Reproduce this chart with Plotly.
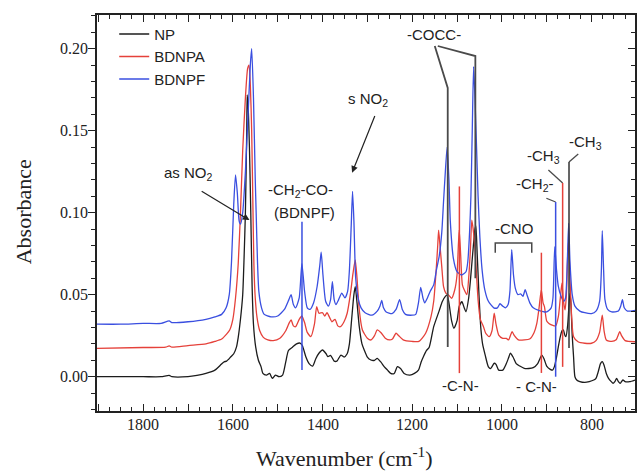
import plotly.graph_objects as go

# ---------------- data (wavenumber cm-1, absorbance) ----------------
series_names = ["NP", "BDNPA", "BDNPF"]

np_spectrum = [
    (1903, 0.0), (1800, 0.0), (1760, 0.0), (1742, 0.0008), (1736, 0.0), (1700, 0.0),
    (1680, 0.0008), (1660, 0.002), (1640, 0.004), (1628, 0.007), (1620, 0.009),
    (1614, 0.0095), (1610, 0.0105), (1605, 0.012), (1598, 0.014), (1592, 0.018),
    (1588, 0.024), (1583, 0.035), (1578, 0.050), (1575, 0.072), (1572, 0.100),
    (1569, 0.150), (1568, 0.1718), (1566, 0.165), (1563, 0.140), (1560, 0.100),
    (1557, 0.055), (1554, 0.032), (1549, 0.018), (1543, 0.010), (1537, 0.006),
    (1533, 0.002), (1525, 0.001), (1518, 0.002), (1512, -0.001), (1505, 0.001),
    (1497, 0.000), (1489, 0.001), (1482, 0.009), (1476, 0.016), (1467, 0.018),
    (1458, 0.020), (1450, 0.0205), (1445, 0.019), (1437, 0.012), (1430, 0.008),
    (1422, 0.0065), (1415, 0.011), (1408, 0.0143), (1400, 0.0163), (1392, 0.014),
    (1388, 0.0122), (1382, 0.013), (1374, 0.0095), (1368, 0.0095), (1359, 0.0132),
    (1352, 0.012), (1345, 0.014), (1340, 0.020), (1335, 0.035), (1330, 0.050),
    (1327, 0.0549), (1323, 0.045), (1318, 0.0305), (1312, 0.020), (1307, 0.0163),
    (1300, 0.012), (1292, 0.0102), (1284, 0.010), (1278, 0.0112), (1270, 0.009),
    (1262, 0.006), (1255, 0.004), (1248, 0.002), (1240, 0.002), (1233, 0.0061),
    (1226, 0.005), (1218, 0.002), (1205, 0.001), (1195, 0.002), (1186, 0.004),
    (1180, 0.009), (1175, 0.0122), (1168, 0.016), (1162, 0.018), (1152, 0.0305),
    (1140, 0.040), (1133, 0.0457), (1126, 0.049), (1122, 0.0498), (1118, 0.045),
    (1112, 0.034), (1107, 0.0295), (1100, 0.034), (1095, 0.043), (1089, 0.0457),
    (1084, 0.042), (1080, 0.0396), (1074, 0.048), (1070, 0.059), (1065, 0.075),
    (1060, 0.090), (1058, 0.092), (1055, 0.075), (1051, 0.050), (1047, 0.030),
    (1043, 0.020), (1037, 0.013), (1030, 0.006), (1025, 0.005), (1017, 0.0082),
    (1013, 0.0075), (1007, 0.004), (998, 0.004), (990, 0.008), (985, 0.0115),
    (981, 0.0143), (975, 0.012), (968, 0.008), (960, 0.0065), (950, 0.0051),
    (940, 0.005), (930, 0.0055), (920, 0.008), (915, 0.011), (911, 0.0132),
    (906, 0.011), (900, 0.0065), (892, 0.0045), (887, 0.004), (883, 0.006),
    (878, 0.012), (874, 0.0183), (870, 0.024), (866, 0.028), (863, 0.0285),
    (859, 0.025), (857, 0.0244), (853, 0.032), (850, 0.045), (848, 0.0508),
    (846, 0.045), (843, 0.025), (840, 0.012), (837, 0.000), (833, -0.002),
    (826, -0.003), (815, -0.0035), (805, -0.003), (795, -0.002), (790, -0.001),
    (785, 0.003), (780, 0.008), (776, 0.0092), (772, 0.007), (767, 0.002),
    (762, -0.001), (756, -0.003), (752, -0.004), (748, -0.003), (744, -0.001),
    (740, -0.003), (736, -0.004), (730, -0.002), (725, -0.003), (715, -0.003),
    (703, -0.002),
]

bdnpa_spectrum = [
    (1903, 0.0173), (1800, 0.0178), (1750, 0.018), (1742, 0.0188), (1736, 0.018),
    (1700, 0.019), (1660, 0.020), (1640, 0.0215), (1625, 0.023), (1614, 0.026),
    (1607, 0.0285), (1600, 0.035), (1594, 0.048), (1588, 0.069), (1583, 0.100),
    (1578, 0.138), (1572, 0.170), (1567, 0.188), (1564, 0.190), (1561, 0.178),
    (1558, 0.150), (1555, 0.100), (1553, 0.068), (1550, 0.048), (1546, 0.036),
    (1540, 0.028), (1532, 0.024), (1522, 0.0225), (1510, 0.022), (1495, 0.0235),
    (1482, 0.028), (1474, 0.033), (1470, 0.0346), (1465, 0.031), (1460, 0.0305),
    (1452, 0.035), (1446, 0.037), (1440, 0.033), (1434, 0.027), (1426, 0.0244),
    (1418, 0.032), (1413, 0.0427), (1408, 0.0387), (1400, 0.039), (1395, 0.037),
    (1390, 0.039), (1384, 0.036), (1379, 0.0335), (1372, 0.035), (1366, 0.031),
    (1360, 0.0305), (1352, 0.0335), (1345, 0.0387), (1338, 0.050), (1332, 0.063),
    (1327, 0.0712), (1323, 0.060), (1318, 0.0407), (1311, 0.0285), (1300, 0.0235),
    (1292, 0.0224), (1284, 0.025), (1278, 0.0285), (1270, 0.027), (1260, 0.0235),
    (1250, 0.0224), (1244, 0.023), (1236, 0.0265), (1230, 0.025), (1220, 0.0225),
    (1200, 0.0215), (1185, 0.0215), (1170, 0.0265), (1158, 0.0366), (1152, 0.046),
    (1147, 0.063), (1143, 0.080), (1141, 0.0894), (1138, 0.080), (1134, 0.0671),
    (1130, 0.0549), (1125, 0.051), (1119, 0.0498), (1112, 0.0478), (1105, 0.053),
    (1100, 0.062), (1097, 0.080), (1095, 0.0894), (1092, 0.075), (1088, 0.056),
    (1084, 0.053), (1078, 0.050), (1074, 0.060), (1070, 0.078), (1067, 0.0955),
    (1064, 0.090), (1060, 0.078), (1056, 0.060), (1053, 0.0468), (1048, 0.035),
    (1041, 0.0305), (1036, 0.0265), (1028, 0.0244), (1022, 0.028), (1017, 0.0387),
    (1013, 0.032), (1007, 0.0254), (998, 0.0234), (990, 0.0234), (985, 0.0224),
    (981, 0.025), (977, 0.0274), (972, 0.025), (963, 0.0224), (950, 0.0224),
    (938, 0.023), (928, 0.027), (922, 0.0325), (917, 0.042), (912, 0.0529),
    (908, 0.045), (905, 0.0427), (900, 0.034), (895, 0.0325), (888, 0.0315),
    (880, 0.031), (874, 0.0366), (870, 0.0468), (866, 0.057), (863, 0.0468),
    (859, 0.0407), (856, 0.050), (853, 0.075), (851, 0.083), (848, 0.060),
    (844, 0.035), (840, 0.0244), (830, 0.0213), (815, 0.0204), (800, 0.0204),
    (790, 0.022), (782, 0.027), (776, 0.0376), (772, 0.028), (767, 0.0224),
    (755, 0.0215), (745, 0.0225), (737, 0.0274), (733, 0.025), (725, 0.022),
    (703, 0.0213),
]

bdnpf_spectrum = [
    (1903, 0.032), (1850, 0.032), (1800, 0.0325), (1760, 0.0325), (1742, 0.034),
    (1736, 0.033), (1700, 0.0335), (1660, 0.035), (1640, 0.0365), (1625, 0.038),
    (1615, 0.042), (1608, 0.050), (1603, 0.070), (1598, 0.105), (1594, 0.123),
    (1590, 0.112), (1586, 0.095), (1583, 0.093), (1578, 0.100), (1572, 0.125),
    (1566, 0.160), (1561, 0.190), (1558, 0.200), (1554, 0.170), (1550, 0.120),
    (1548, 0.100), (1545, 0.070), (1542, 0.052), (1536, 0.042), (1530, 0.038),
    (1515, 0.0365), (1500, 0.037), (1485, 0.041), (1475, 0.047), (1470, 0.050),
    (1465, 0.044), (1460, 0.042), (1452, 0.048), (1446, 0.069), (1440, 0.052),
    (1434, 0.042), (1428, 0.041), (1420, 0.045), (1412, 0.055), (1406, 0.068),
    (1403, 0.076), (1399, 0.062), (1393, 0.046), (1387, 0.043), (1382, 0.047),
    (1378, 0.058), (1374, 0.047), (1370, 0.044), (1364, 0.047), (1357, 0.051),
    (1350, 0.048), (1344, 0.052), (1340, 0.065), (1336, 0.092), (1333, 0.113),
    (1330, 0.095), (1326, 0.060), (1320, 0.047), (1314, 0.042), (1305, 0.039),
    (1290, 0.0375), (1278, 0.040), (1272, 0.043), (1268, 0.0465), (1264, 0.042),
    (1258, 0.0395), (1245, 0.0385), (1236, 0.041), (1228, 0.047), (1222, 0.041),
    (1215, 0.038), (1200, 0.0375), (1192, 0.038), (1186, 0.045), (1181, 0.0545),
    (1176, 0.048), (1172, 0.045), (1166, 0.048), (1160, 0.052), (1152, 0.056),
    (1146, 0.065), (1140, 0.073), (1134, 0.088), (1130, 0.107), (1126, 0.125),
    (1122, 0.140), (1118, 0.120), (1115, 0.095), (1108, 0.072), (1100, 0.064),
    (1090, 0.062), (1080, 0.064), (1076, 0.070), (1072, 0.088), (1069, 0.110),
    (1066, 0.150), (1063, 0.189), (1060, 0.170), (1057, 0.145), (1053, 0.110),
    (1049, 0.085), (1044, 0.065), (1038, 0.053), (1030, 0.046), (1018, 0.042),
    (1010, 0.042), (1004, 0.0445), (998, 0.043), (992, 0.042), (986, 0.044),
    (982, 0.052), (978, 0.0775), (974, 0.062), (970, 0.054), (964, 0.050),
    (958, 0.0505), (953, 0.049), (948, 0.053), (944, 0.050), (937, 0.0447),
    (930, 0.042), (918, 0.0405), (900, 0.0395), (890, 0.042), (886, 0.048),
    (882, 0.0793), (878, 0.065), (874, 0.055), (868, 0.049), (862, 0.046),
    (858, 0.048), (854, 0.070), (851, 0.0935), (848, 0.070), (843, 0.050),
    (837, 0.043), (826, 0.040), (815, 0.039), (800, 0.0385), (790, 0.040),
    (782, 0.046), (778, 0.065), (776, 0.089), (773, 0.065), (770, 0.047),
    (764, 0.041), (755, 0.0395), (740, 0.040), (735, 0.043), (731, 0.047),
    (727, 0.042), (720, 0.040), (703, 0.0405),
]

x_label_values = [800, 1000, 1200, 1400, 1600, 1800]
x_label_texts = ["800", "1000", "1200", "1400", "1600", "1800"]
x_tick_step = 100
y_tick_values = [0.0, 0.05, 0.10, 0.15, 0.20]
y_tick_labels = ["0.00", "0.05", "0.10", "0.15", "0.20"]

# band labels: (text, wavenumber, absorbance)
band_labels = [
    ("as NO<sub>2</sub>", 1698, 0.1236),
    ("s NO<sub>2</sub>", 1298, 0.1687),
    ("-CH<sub>2</sub>-CO-", 1448, 0.1138),
    ("(BDNPF)", 1441, 0.1004),
    ("-COCC-", 1152, 0.2084),
    ("-CNO", 972, 0.0906),
    ("-C-N-", 1092, -0.0051),
    ("- C-N-", 922, -0.0061),
    ("-CH<sub>2</sub>-", 927, 0.1169),
    ("-CH<sub>3</sub>", 906, 0.1340),
    ("-CH<sub>3</sub>", 813, 0.1425),
]

# ---------------- styling ----------------
colors = ["#1c1c1c", "#e5413a", "#3a4fe0"]
serif = "Liberation Serif"
sans = "Liberation Sans"
ink = "#222222"
xr = [1903, 703]
yr = [-0.0209, 0.2205]

fig = go.Figure()
for name, data, col in zip(series_names, [np_spectrum, bdnpa_spectrum, bdnpf_spectrum], colors):
    fig.add_trace(go.Scatter(
        x=[p[0] for p in data], y=[p[1] for p in data], mode="lines", name=name,
        line=dict(color=col, width=1.3, shape="spline", smoothing=0.6),
    ))
# invisible traces to activate the extra axes (top ticks / right ticks)
fig.add_trace(go.Scatter(x=[None], y=[None], yaxis="y2", showlegend=False, hoverinfo="skip"))
fig.add_trace(go.Scatter(x=[None], y=[None], xaxis="x2", showlegend=False, hoverinfo="skip"))

shapes = []
def path(points, color, width):
    d = "M " + " L ".join(f"{x},{y}" for x, y in points)
    shapes.append(dict(type="path", path=d, xref="x", yref="y",
                       line=dict(color=color, width=width)))

gray = "#4a4a4a"
path([(1149.6, 0.2016), (1120.7, 0.176), (1120.7, 0.0181)], gray, 1.8)
path([(1142.9, 0.2016), (1059.1, 0.1955), (1059.1, 0.060)], gray, 1.8)
path([(1445.8, 0.0945), (1445.8, 0.0041)], colors[2], 1.5)
path([(1094.7, 0.116), (1094.7, 0.0022)], colors[1], 1.5)
path([(911.8, 0.0756), (911.8, 0.0023)], colors[1], 1.5)
path([(900.7, 0.1088), (880.0, 0.1065)], gray, 1.3)
path([(880.0, 0.1065), (880.0, 0.0)], colors[2], 1.5)
path([(896.2, 0.126), (864.4, 0.1181)], gray, 1.3)
path([(864.4, 0.1181), (864.4, 0.006)], colors[1], 1.5)
path([(829.6, 0.1358), (850.2, 0.1309)], gray, 1.3)
path([(850.2, 0.1309), (850.2, 0.0175)], "#333333", 1.5)
path([(1014.7, 0.0756), (1014.7, 0.0815), (933.3, 0.0815), (933.3, 0.0756)], gray, 1.5)

annotations = []
for text, x, y in band_labels:
    annotations.append(dict(text=text, x=x, y=y, xref="x", yref="y", showarrow=False,
                            xanchor="center", yanchor="middle",
                            font=dict(family=sans, size=15, color=ink)))
# arrows
for (hx, hy), (tx, ty) in [((1562.9, 0.0955), (1674, 0.1138)),
                           ((1334, 0.1244), (1280.7, 0.1608))]:
    annotations.append(dict(text=" ", x=hx, y=hy, ax=tx, ay=ty, xref="x", yref="y",
                            axref="x", ayref="y", showarrow=True, arrowhead=2,
                            arrowsize=1.1, arrowwidth=1.2, arrowcolor=ink,
                            font=dict(size=2)))
# axis titles
annotations.append(dict(text="Absorbance", xref="paper", yref="paper", x=(23 - 97) / 540,
                        y=(411 - 212) / 396, textangle=-90, showarrow=False,
                        xanchor="center", yanchor="middle",
                        font=dict(family=serif, size=22, color=ink)))
annotations.append(dict(text="Wavenumber (cm<sup>-1</sup>)", xref="paper", yref="paper",
                        x=(345 - 97) / 540, y=(411 - 457) / 396, showarrow=False,
                        xanchor="center", yanchor="middle",
                        font=dict(family=serif, size=22, color=ink)))

tick_common = dict(tickwidth=1, tickcolor=ink, showgrid=False, zeroline=False)
fig.update_layout(
    width=637, height=472,
    margin=dict(l=97, r=0, t=15, b=61),
    paper_bgcolor="white", plot_bgcolor="white",
    showlegend=True,
    legend=dict(x=0.032, y=0.993, xanchor="left", yanchor="top",
                bgcolor="rgba(0,0,0,0)", borderwidth=0,
                font=dict(family=sans, size=15, color=ink),
                itemwidth=30, tracegroupgap=0),
    # bottom axis: labelled every 200, major ticks every 100, minor every 25
    xaxis=dict(range=xr, tickmode="linear", tick0=0, dtick=x_tick_step,
               ticks="inside", ticklen=7, showticklabels=False,
               showline=True, linecolor=ink, linewidth=1.5, mirror=True,
               minor=dict(tick0=0, dtick=25, ticks="inside", ticklen=4,
                          tickcolor=ink, showgrid=False),
               **tick_common),
    # top axis: mirrored inside ticks, carries no labels
    xaxis2=dict(range=xr, overlaying="x", side="top", anchor="y",
                tickmode="linear", tick0=0, dtick=x_tick_step,
                ticks="inside", ticklen=7, showticklabels=False, showline=False,
                minor=dict(tick0=0, dtick=25, ticks="inside", ticklen=4,
                           tickcolor=ink, showgrid=False),
                **tick_common),
    yaxis=dict(range=yr, tickvals=y_tick_values, ticktext=y_tick_labels,
               ticks="outside", ticklen=7, ticklabelstandoff=-3,
               showline=True, linecolor=ink, linewidth=1.5, mirror=True,
               minor=dict(tick0=0, dtick=0.01, ticks="outside", ticklen=4,
                          tickcolor=ink, showgrid=False),
               tickfont=dict(family=serif, size=16, color=ink),
               **tick_common),
    yaxis2=dict(range=yr, overlaying="y", side="right", tickvals=y_tick_values,
                ticks="inside", ticklen=7, showticklabels=False, showline=False,
                minor=dict(tick0=0, dtick=0.01, ticks="inside", ticklen=4,
                           tickcolor=ink, showgrid=False),
                **tick_common),
    shapes=shapes,
    annotations=annotations,
)

# x tick labels (every 200 cm-1) placed under the bottom axis
for v, t in zip(x_label_values, x_label_texts):
    fig.add_annotation(text=t, x=v, xref="x", y=-14 / 396, yref="paper", yanchor="middle",
                       xanchor="center", showarrow=False,
                       font=dict(family=serif, size=16, color=ink))

fig.write_html("out.html", config={"displayModeBar": False},
               post_script="document.body.style.margin='0';document.body.style.overflow='hidden';")
